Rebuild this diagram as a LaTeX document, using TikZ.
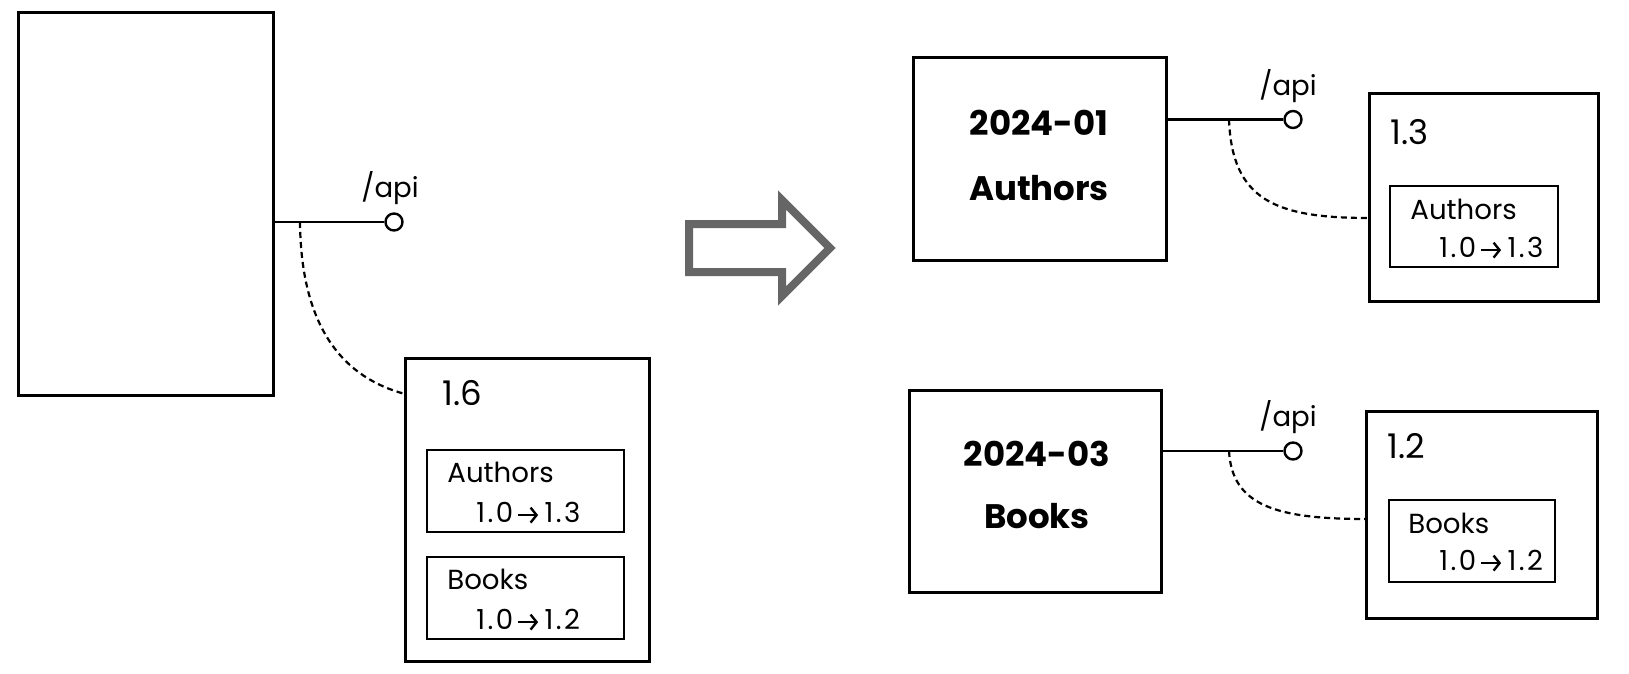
\documentclass[tikz,border=0pt]{standalone}
\usepackage{fontspec}
\setmainfont{Poppins}[Numbers=Monospaced]
\usetikzlibrary{fit,arrows.meta}
\definecolor{arrowgray}{HTML}{666666}
\newcommand{\ver}[2]{{\addfontfeature{LetterSpace=9}#1}\hspace{1.8pt}\tikz[baseline={(0pt,-3.7pt)}]\draw[line width=1.2pt,-{Straight Barb[length=3pt,width=7.5pt,line width=1.2pt]}] (0pt,0pt) -- (10pt,0pt);\hspace{2.6pt}{\addfontfeature{LetterSpace=9}#2}}
\tikzset{
  box/.style={draw=black, line width=1.5pt, inner sep=0pt},
  inbox/.style={draw=black, line width=1.3pt, inner sep=0pt},
  conn/.style={draw=black, line width=1.3pt},
  dconn/.style={draw=black, line width=1.1pt, dash pattern=on 3pt off 2pt},
  port/.style={circle, draw=black, line width=1.2pt, fill=white, minimum size=8.5pt, inner sep=0pt},
  lbl/.style={font=\fontsize{13.8}{15}\selectfont, inner sep=0pt, anchor=west},
  big/.style={font=\fontsize{17}{19}\selectfont, inner sep=0pt, anchor=west},
  title/.style={font=\bfseries\fontsize{17}{19}\selectfont, inner sep=0pt},
}
\begin{document}
\begin{tikzpicture}[x=0.5pt, y=-0.5pt]
\useasboundingbox (0,0) rectangle (1629,674);

% ---------- left part ----------
\node[box, fit={(18,13) (273,395)}] (mono) {};
\node[port] (p1) at (394,222) {};
\node[lbl, anchor=south] (api1) at (390,205) {/api};
\draw[conn] (p1 -| mono.east) -- (p1);
\node[box, fit={(405,358) (649,661)}] (v16) {};
\node[big] (t16) at (442,393) {1.6};
\node[inbox, fit={(427,450) (624,532)}] (a16) {};
\node[lbl] (a16n) at (447,472) {Authors};
\node[lbl] (a16v) at (476,513) {\ver{1.0}{1.3}};
\node[inbox, fit={(427,557) (624,639)}] (b16) {};
\node[lbl] (b16n) at (447,579) {Books};
\node[lbl] (b16v) at (476,620) {\ver{1.0}{1.2}};
\coordinate (j1) at (300,222);
\coordinate (e1) at (405,394);
\draw[dconn] (j1) .. controls (301,330) and (345,378) .. (e1);

% ---------- big arrow ----------
\draw[arrowgray, line width=4pt, line join=miter, miter limit=10]
  (689,224) -- (782,224) -- (782,200) -- (830,248) -- (782,296) -- (782,272) -- (689,272) -- cycle;

% ---------- top right ----------
\node[box, fit={(913,58) (1166,260)}] (s1) {};
\node[title] (s1a) at (1039,123) {2024-01};
\node[title] (s1b) at (1039,188) {Authors};
\node[port] (p2) at (1293,119.5) {};
\node[lbl, anchor=south] (api2) at (1288,103) {/api};
\draw[conn] (p2 -| s1.east) -- (p2);
\node[box, fit={(1369,94) (1598,301)}] (v13) {};
\node[big] (t13) at (1390,132) {1.3};
\node[inbox, fit={(1390,186) (1558,267)}] (a13) {};
\node[lbl] (a13n) at (1410,209) {Authors};
\node[lbl] (a13v) at (1439,248) {\ver{1.0}{1.3}};
\coordinate (j2) at (1229,119.5);
\coordinate (e2) at (1369,218);
\draw[dconn] (j2) .. controls (1232,200) and (1275,218) .. (e2);

% ---------- bottom right ----------
\node[box, fit={(909,390) (1161,592)}] (s2) {};
\node[title] (s2a) at (1037,454) {2024-03};
\node[title] (s2b) at (1037,516) {Books};
\node[port] (p3) at (1293,451) {};
\node[lbl, anchor=south] (api3) at (1288,434) {/api};
\draw[conn] (p3 -| s2.east) -- (p3);
\node[box, fit={(1366,411) (1597,618)}] (v12) {};
\node[big] (t12) at (1387,446) {1.2};
\node[inbox, fit={(1389,500) (1555,582)}] (b12) {};
\node[lbl] (b12n) at (1408,523) {Books};
\node[lbl] (b12v) at (1439,561) {\ver{1.0}{1.2}};
\coordinate (j3) at (1229,451);
\coordinate (e3) at (1366,519);
\draw[dconn] (j3) .. controls (1232,505) and (1275,519) .. (e3);
\end{tikzpicture}
\end{document}
